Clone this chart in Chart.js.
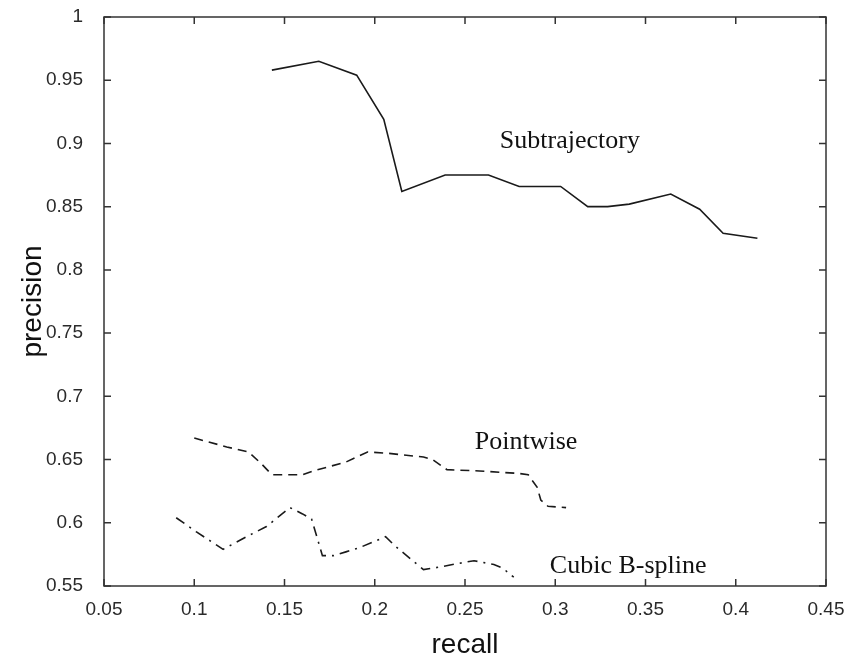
<!DOCTYPE html>
<html>
<head>
<meta charset="utf-8">
<script src="https://cdn.jsdelivr.net/npm/chart.js@4.4.1/dist/chart.umd.min.js"></script>
<style>
  html, body { margin: 0; padding: 0; background: #fff; }
  #wrap { width: 851px; height: 664px; position: relative; }
</style>
</head>
<body>
<div id="wrap"><canvas id="myChart"></canvas></div>
<script>
// recall / precision
const subX = [0.143, 0.169, 0.19, 0.205, 0.215, 0.239, 0.263, 0.28, 0.303, 0.318, 0.329, 0.341, 0.364, 0.38, 0.393, 0.412];
const subY = [0.958, 0.965, 0.954, 0.919, 0.862, 0.875, 0.875, 0.866, 0.866, 0.85, 0.85, 0.852, 0.86, 0.848, 0.829, 0.825];

const pwX = [0.1, 0.105, 0.118, 0.13, 0.137, 0.143, 0.16, 0.166, 0.184, 0.196, 0.207, 0.227, 0.232, 0.24, 0.258, 0.28, 0.285, 0.29, 0.292, 0.296, 0.306];
const pwY = [0.667, 0.665, 0.66, 0.656, 0.647, 0.638, 0.638, 0.641, 0.648, 0.656, 0.655, 0.652, 0.65, 0.642, 0.641, 0.639, 0.638, 0.628, 0.618, 0.613, 0.612];

const cbX = [0.09, 0.101, 0.116, 0.129, 0.14, 0.153, 0.16, 0.165, 0.171, 0.177, 0.184, 0.191, 0.206, 0.211, 0.221, 0.227, 0.236, 0.247, 0.255, 0.266, 0.271, 0.277];
const cbY = [0.604, 0.593, 0.579, 0.589, 0.597, 0.612, 0.607, 0.603, 0.574, 0.574, 0.577, 0.58, 0.589, 0.582, 0.57, 0.563, 0.565, 0.568, 0.57, 0.567, 0.564, 0.557];

const seriesNames = ['Subtrajectory', 'Pointwise', 'Cubic B-spline'];
// where each name sits (left edge, baseline) in data units
const labelX = [0.2693, 0.2554, 0.297];
const labelY = [0.8964, 0.6582, 0.560];

const xRange = [0.05, 0.45];
const yRange = [0.55, 1];
const tickStep = 0.05;

function pts(xs, ys) {
  return xs.map((x, i) => ({x: x, y: ys[i]}));
}

const ink = '#1a1a1a';

// box round the plot with inward ticks on all four sides, plus series names
const boxPlugin = {
  id: 'box',
  afterDraw(chart) {
    const ctx = chart.ctx;
    const a = chart.chartArea;
    const xs = chart.scales.x, ys = chart.scales.y;
    const tl = 7;
    ctx.save();
    ctx.strokeStyle = '#333';
    ctx.lineWidth = 1.5;
    ctx.strokeRect(a.left, a.top, a.right - a.left, a.bottom - a.top);
    ctx.beginPath();
    xs.ticks.forEach(t => {
      const px = xs.getPixelForValue(t.value);
      ctx.moveTo(px, a.bottom); ctx.lineTo(px, a.bottom - tl);
      ctx.moveTo(px, a.top); ctx.lineTo(px, a.top + tl);
    });
    ys.ticks.forEach(t => {
      const py = ys.getPixelForValue(t.value);
      ctx.moveTo(a.left, py); ctx.lineTo(a.left + tl, py);
      ctx.moveTo(a.right, py); ctx.lineTo(a.right - tl, py);
    });
    ctx.stroke();

    ctx.fillStyle = '#111';
    ctx.font = '26px "Liberation Serif", "Times New Roman", serif';
    ctx.textBaseline = 'alphabetic';
    ctx.textAlign = 'left';
    seriesNames.forEach((n, i) => {
      ctx.fillText(n, xs.getPixelForValue(labelX[i]), ys.getPixelForValue(labelY[i]));
    });
    ctx.restore();
  }
};

const fmt = v => String(+v.toFixed(2));

const config = {
  type: 'line',
  data: {
    datasets: [
      {
        label: seriesNames[0],
        data: pts(subX, subY),
        borderColor: ink,
        borderWidth: 1.6,
        pointRadius: 0,
        tension: 0
      }, {
        label: seriesNames[1],
        data: pts(pwX, pwY),
        borderColor: ink,
        borderWidth: 1.6,
        borderDash: [9, 6],
        pointRadius: 0,
        tension: 0
      }, {
        label: seriesNames[2],
        data: pts(cbX, cbY),
        borderColor: ink,
        borderWidth: 1.6,
        borderDash: [10, 6, 2, 6],
        pointRadius: 0,
        tension: 0
      }
    ]
  },
  options: {
    responsive: true,
    maintainAspectRatio: false,
    animation: false,
    layout: { padding: { left: 0, right: 25, top: 17, bottom: 0 } },
    plugins: {
      legend: { display: false },
      tooltip: { enabled: false }
    },
    scales: {
      x: {
        type: 'linear',
        min: xRange[0],
        max: xRange[1],
        grid: { display: false, drawTicks: false },
        border: { display: false },
        ticks: {
          stepSize: tickStep,
          padding: 12,
          color: '#2a2a2a',
          font: { family: '"Liberation Sans", Arial, sans-serif', size: 19 },
          callback: fmt,
          maxRotation: 0
        },
        title: {
          display: true,
          text: 'recall',
          color: '#111',
          font: { family: '"Liberation Sans", Arial, sans-serif', size: 28 },
          padding: { top: 0, bottom: 2 }
        },
        afterFit(scale) {
          scale.height = 78;
          scale.paddingLeft = 0;
          scale.paddingRight = 0;
        }
      },
      y: {
        type: 'linear',
        min: yRange[0],
        max: yRange[1],
        grid: { display: false, drawTicks: false },
        border: { display: false },
        ticks: {
          stepSize: tickStep,
          padding: 21,
          color: '#2a2a2a',
          font: { family: '"Liberation Sans", Arial, sans-serif', size: 19 },
          callback: fmt
        },
        title: {
          display: true,
          text: 'precision',
          color: '#111',
          font: { family: '"Liberation Sans", Arial, sans-serif', size: 28 },
          padding: { top: 16, bottom: 0 }
        },
        afterFit(scale) {
          scale.width = 104;
          scale.paddingTop = 0;
          scale.paddingBottom = 0;
        }
      }
    }
  },
  plugins: [boxPlugin]
};

new Chart(document.getElementById('myChart'), config);
</script>
</body>
</html>
